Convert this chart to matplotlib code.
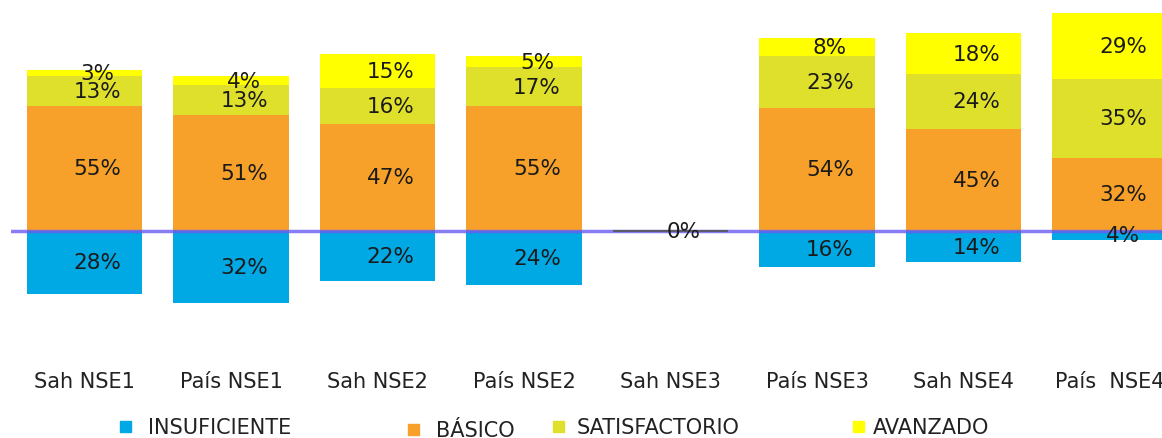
import numpy as np
import matplotlib.pyplot as plt
from matplotlib.patches import Rectangle

# --- данные ---
categories = ['Sah NSE1', 'País NSE1', 'Sah NSE2', 'País NSE2',
              'Sah NSE3', 'País NSE3', 'Sah NSE4', 'País  NSE4']
insuficiente = [28, 32, 22, 24, 0, 16, 14, 4]
basico = [55, 51, 47, 55, 0, 54, 45, 32]
satisfactorio = [13, 13, 16, 17, 0, 23, 24, 35]
avanzado = [3, 4, 15, 5, 0, 8, 18, 29]

series_names = ['INSUFICIENTE', 'BÁSICO', 'SATISFACTORIO', 'AVANZADO']
colors = ['#00a8e4', '#f7a12a', '#dfe02c', '#ffff00']

W, H = 1162, 439
fig = plt.figure(figsize=(W / 100, H / 100), dpi=100)
# ось шире картинки: последний столбец обрезан справа, как в оригинале
ax = fig.add_axes([11.25 / W, (H - 322.5) / H, 1172 / W, 317.8 / H])
ax.set_xlim(-0.5, 7.5)
ax.set_ylim(-40, 100)

x = np.arange(len(categories))
bw = 0.79
txt_dx = 0.089
fs = 15.5

# отрицательная часть (недостаточный уровень)
neg = -np.array(insuficiente)
ax.bar(x, neg, bw, color=colors[0], zorder=2)

# положительный стек
bottom = np.zeros(len(x))
for vals, col in zip([basico, satisfactorio, avanzado], colors[1:]):
    vals = np.array(vals)
    ax.bar(x, vals, bw, bottom=bottom, color=col, zorder=2)
    for xi, b, v in zip(x, bottom, vals):
        if v > 0:
            ax.text(xi + txt_dx, b + v / 2, f'{v}%', ha='center', va='center',
                    fontsize=fs, color='#1a1a1a', zorder=5)
    bottom += vals

for xi, v in zip(x, insuficiente):
    if v > 0:
        ax.text(xi + txt_dx, -v / 2, f'{v}%', ha='center', va='center',
                fontsize=fs, color='#1a1a1a', zorder=5)

# нулевая линия
ax.axhline(0, color='#6a5cf0', alpha=0.8, lw=2.5, zorder=3)

# пустые категории: тонкая линия и подпись 0%
totals = np.array(insuficiente) + np.array(basico) + np.array(satisfactorio) + np.array(avanzado)
for xi, t in zip(x, totals):
    if t == 0:
        ax.hlines(0, xi - bw / 2, xi + bw / 2, color='#5a5a6a', lw=1.5, zorder=4)
        ax.text(xi + txt_dx, 0, '0%', ha='center', va='center', fontsize=fs,
                color='#1a1a1a', zorder=5)

ax.set_xticks(x)
ax.set_xticklabels(categories, fontsize=15, color='#222222')
ax.tick_params(axis='x', length=0, pad=36)
ax.set_yticks([])
for s in ax.spines.values():
    s.set_visible(False)

# легенда вручную (неравные промежутки как на исходнике)
marker_x = [125, 413, 558, 858]
text_x = [148, 436, 577, 873]
leg_y = [428, 431, 428, 428]
for name, col, mx, tx, ly in zip(series_names, colors, marker_x, text_x, leg_y):
    fig.patches.append(Rectangle(((mx - 5.5) / W, (H - ly - 4.5) / H), 11 / W, 11 / H,
                                 transform=fig.transFigure, color=col, figure=fig))
    fig.text(tx / W, (H - ly) / H, name, ha='left', va='center', fontsize=15, color='#222222')

fig.savefig('out.png', dpi=100)
